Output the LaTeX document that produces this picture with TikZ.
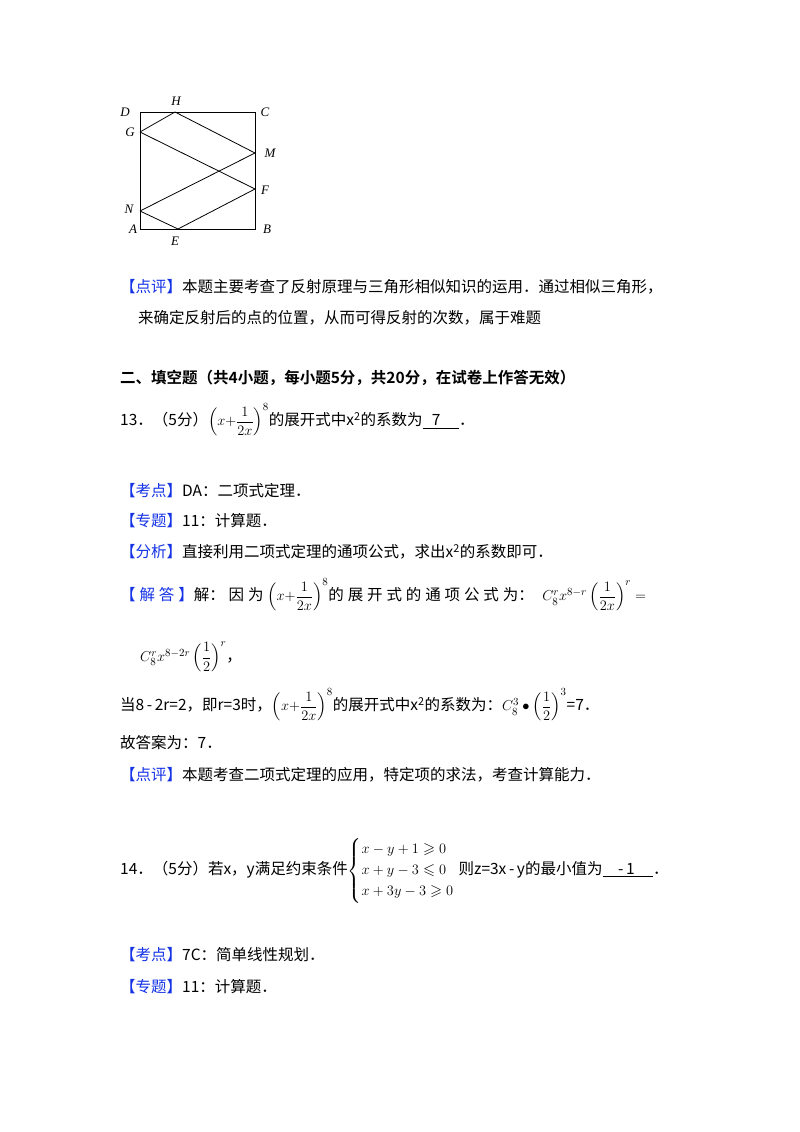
\documentclass[tikz,border=0pt]{standalone}
\usepackage{amsmath,amssymb}
\usepackage{fontspec}
\setmainfont{Noto Sans CJK SC}[BoldFont={Noto Sans CJK SC Bold}]
\definecolor{tagblue}{RGB}{20,50,230}
\newcommand{\tg}[1]{{\color{tagblue}【#1】}}
\newcommand{\gapq}{\hspace{0.25em}}
\begin{document}
\begin{tikzpicture}[x=1pt,y=-1pt,
  txt/.style={anchor=west,inner sep=0pt,font=\fontsize{15.5}{19}\selectfont},
  lbl/.style={inner sep=0pt,font=\fontsize{13}{15}\selectfont\fontspec{Liberation Serif}\itshape},
  seg/.style={line width=0.8pt}]
\useasboundingbox (0,0) rectangle (800,1132);
% figure
\coordinate (A) at (140,229); \coordinate (B) at (255,229);
\coordinate (C) at (255,112); \coordinate (D) at (140,112);
\coordinate (H) at (175,112); \coordinate (G) at (140,132);
\coordinate (M) at (255,153); \coordinate (F) at (255,189);
\coordinate (N) at (140,211); \coordinate (E) at (178,229);
\draw[seg] (A) -- (B) -- (C) -- (D) -- cycle;
\draw[seg] (G) -- (H) -- (M);
\draw[seg] (G) -- (F);
\draw[seg] (N) -- (M);
\draw[seg] (N) -- (E) -- (F);
\node[lbl] at (125,112) {D};
\node[lbl] at (176,101) {H};
\node[lbl] at (265,112) {C};
\node[lbl] at (130,132) {G};
\node[lbl] at (270,153) {M};
\node[lbl] at (265,190) {F};
\node[lbl] at (129,209) {N};
\node[lbl] at (133,229) {A};
\node[lbl] at (175,241) {E};
\node[lbl] at (267,229) {B};
% text
\node[txt] (t1) at (120,287) {\tg{点评}本题主要考查了反射原理与三角形相似知识的运用．通过相似三角形，};
\node[txt] (t2) at (138,318) {来确定反射后的点的位置，从而可得反射的次数，属于难题};
\node[txt] (t3) at (120,378) {\bfseries 二、填空题（共4小题，每小题5分，共20分，在试卷上作答无效）};
\node[txt] (t4) at (120,420) {13．（5分）$\left(x{+}\dfrac{1}{2x}\right)^{8}$的展开式中x\textsuperscript{2}的系数为\underline{\hspace{0.6em}7\hspace{1.2em}}．};
\node[txt] (t5) at (120,491) {\tg{考点}DA：二项式定理．};
\node[txt] (t6) at (120,521) {\tg{专题}11：计算题．};
\node[txt] (t7) at (120,552) {\tg{分析}直接利用二项式定理的通项公式，求出x\textsuperscript{2}的系数即可．};
\node[txt] (t8) at (120,595) {{\color{tagblue}【\gapq 解\gapq 答\gapq 】}解：\gapq 因\gapq 为\gapq $\left(x{+}\dfrac{1}{2x}\right)^{8}$的\gapq 展\gapq 开\gapq 式\gapq 的\gapq 通\gapq 项\gapq 公\gapq 式\gapq 为：\;\;$C_8^r x^{8-r}\left(\dfrac{1}{2x}\right)^{r}=$};
\node[txt] (t9) at (140,657) {$C_8^r x^{8-2r}\left(\dfrac{1}{2}\right)^{r}$，};
\node[txt] (t10) at (120,705) {当8\,-\,2r=2，即r=3时，$\left(x{+}\dfrac{1}{2x}\right)^{8}$的展开式中x\textsuperscript{2}的系数为：$C_8^3\bullet\left(\dfrac{1}{2}\right)^{3}$=7．};
\node[txt] (t11) at (120,743) {故答案为：7．};
\node[txt] (t12) at (120,775) {\tg{点评}本题考查二项式定理的应用，特定项的求法，考查计算能力．};
\node[txt] (t13) at (120,871) {14．（5分）若x，y满足约束条件$\left\{\begin{array}{@{}l@{}}x-y+1\geqslant 0\\[2pt] x+y-3\leqslant 0\\[2pt] x+3y-3\geqslant 0\end{array}\right.$\;则z=3x\,-\,y的最小值为\underline{\hspace{1em}-\,1\hspace{1.2em}}．};
\node[txt] (t14) at (120,955) {\tg{考点}7C：简单线性规划．};
\node[txt] (t15) at (120,987) {\tg{专题}11：计算题．};
\end{tikzpicture}
\end{document}
